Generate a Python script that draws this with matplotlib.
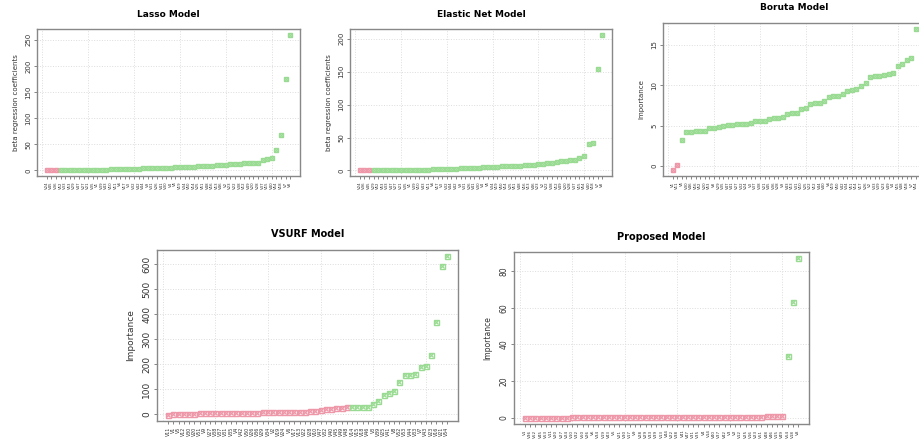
import matplotlib
matplotlib.use("Agg")
import matplotlib.pyplot as plt

# variable names (x tick labels) in plotted order, and their scores
lasso_vars = ("V24 V45 V36 V52 V33 V53 V29 V47 V27 V21 V35 V1 V39 V43 V10 V11 V6 V17 "
              "V3 V32 V42 V44 V9 V31 V26 V41 V30 V4 V5 V19 V34 V50 V14 V25 V51 V48 "
              "V16 V13 V46 V2 V23 V22 V38 V12 V49 V20 V28 V37 V15 V40 V54 V18 V7 V8").split()
lasso_vals = [0, 0, 0, 0.1, 0.2, 0.3, 0.4, 0.5, 0.7, 0.9,
              1.1, 1.3, 1.5, 1.7, 1.9, 2.1, 2.4, 2.7, 3.0, 3.3,
              3.6, 3.9, 4.2, 4.5, 4.8, 5.1, 5.4, 5.7, 6.0, 6.3,
              6.6, 6.9, 7.3, 7.7, 8.2, 8.8, 9.5, 10.3, 10.8, 11.3,
              11.8, 12.3, 13.0, 14.0, 14.5, 14.8, 15.0, 20.0, 22.0, 23.0,
              40.0, 68.0, 176.0, 260.0]
lasso_nsel = 3  # first n drawn in red

enet_vars = ("V24 V36 V45 V29 V52 V53 V33 V47 V27 V21 V35 V1 V39 V10 V43 V11 V6 V17 "
             "V3 V32 V44 V42 V9 V31 V26 V41 V30 V4 V5 V34 V19 V50 V14 V25 V51 V48 "
             "V16 V13 V46 V23 V2 V22 V38 V12 V49 V20 V28 V37 V15 V54 V40 V18 V7 V8").split()
enet_vals = [0, 0, 0, 0.01, 0.02, 0.05, 0.1, 0.1, 0.2, 0.3,
             0.4, 0.5, 0.7, 0.9, 1.1, 1.3, 1.5, 1.8, 2.0, 2.2,
             2.5, 2.8, 3.2, 3.5, 3.8, 4.2, 4.5, 4.8, 5.2, 5.5,
             6.0, 6.2, 6.5, 6.8, 7.0, 7.5, 8.0, 8.5, 9.0, 9.5,
             10.5, 11.0, 12.0, 13.0, 14.0, 15.0, 15.5, 15.8, 19.5, 21.5,
             39.5, 41.0, 154.0, 206.0]
enet_nsel = 3

boruta_vars = ("V1 V11 V5 V30 V46 V16 V52 V20 V53 V8 V29 V35 V47 V41 V27 V32 V24 V3 "
               "V37 V38 V21 V45 V36 V28 V9 V43 V13 V31 V10 V25 V22 V12 V44 V40 V6 V19 "
               "V50 V42 V34 V51 V14 V17 V26 V2 V33 V39 V23 V49 V4 V15 V48 V18 V7 V54").split()
boruta_vals = [-0.5, 0.1, 3.3, 4.2, 4.2, 4.4, 4.4, 4.4, 4.7, 4.75,
               4.8, 4.95, 5.05, 5.15, 5.2, 5.2, 5.25, 5.4, 5.55, 5.55,
               5.55, 5.8, 5.9, 6.0, 6.1, 6.4, 6.55, 6.55, 7.1, 7.15,
               7.7, 7.75, 7.8, 8.0, 8.5, 8.7, 8.7, 8.95, 9.3, 9.4,
               9.6, 9.95, 10.3, 11.05, 11.1, 11.2, 11.3, 11.4, 11.5, 12.4,
               12.6, 13.1, 13.4, 17.0]
boruta_nsel = 2

vsurf_vars = ("V11 V1 V5 V12 V30 V20 V51 V9 V27 V38 V37 V31 V35 V4 V42 V50 V26 V36 "
              "V29 V34 V2 V19 V24 V6 V17 V13 V22 V28 V10 V47 V32 V40 V45 V49 V48 V14 "
              "V15 V18 V46 V3 V39 V25 V41 V8 V52 V53 V44 V33 V7 V43 V23 V16 V21 V54").split()
vsurf_vals = [-3, -1, 0, 0.5, 1, 1.5, 2, 2.3, 2.6, 3,
              3.3, 3.6, 3.9, 4.2, 4.5, 4.8, 5.1, 5.4, 5.7, 6,
              6.4, 6.8, 7.2, 7.6, 8.2, 8.8, 9.5, 10.5, 12, 14,
              19, 20, 23, 25, 26,
              28, 28, 29, 29, 38, 52, 77, 83, 90, 128,
              155, 156, 160, 186, 190, 237, 368, 591, 631]
vsurf_nsel = 35

prop_vars = ("V1 V36 V52 V45 V53 V11 V20 V27 V24 V10 V32 V50 V26 V6 V34 V19 V43 V5 "
             "V21 V30 V17 V9 V28 V29 V33 V39 V13 V44 V22 V38 V41 V47 V31 V35 V4 V14 "
             "V40 V37 V42 V3 V2 V12 V25 V16 V23 V51 V48 V46 V15 V49 V54 V18 V8").split()
prop_vals = [0.05, 0.06, 0.07, 0.08, 0.09, 0.1, 0.1, 0.11, 0.12, 0.13,
             0.14, 0.15, 0.16, 0.17, 0.18, 0.19, 0.2, 0.21, 0.22, 0.23,
             0.24, 0.25, 0.26, 0.27, 0.28, 0.29, 0.3, 0.31, 0.32, 0.33,
             0.34, 0.35, 0.36, 0.37, 0.38, 0.4, 0.42, 0.44, 0.46, 0.48,
             0.5, 0.52, 0.55, 0.58, 0.62, 0.66, 0.7, 0.74, 0.78, 0.8,
             33.5, 63.0, 87.0]
prop_nsel = 50

RED = "#EE97A8"
GREEN = "#9ADB93"


def panel(ax, names, vals, nsel, title, ylabel, yticks, ms, fs, xfs, tfs):
    n = len(vals)
    x = list(range(1, n + 1))
    cols = [RED] * nsel + [GREEN] * (n - nsel)
    for xi, yi, c in zip(x, vals, cols):
        ax.plot(xi, yi, marker="s", ms=ms, mfc="none", mec=c, mew=1.0, ls="none", zorder=3)
        ax.plot(xi, yi, marker="x", ms=ms * 0.8, mec=c, mew=0.9, ls="none", zorder=3)
    pad = 0.04 * (n - 1)
    ax.set_xlim(1 - pad, n + pad)
    lo, hi = min(vals), max(vals)
    ax.set_ylim(lo - 0.04 * (hi - lo), hi + 0.04 * (hi - lo))
    # R grid(): dotted lines at the default pretty ticks
    for gx in range(0, n + 1, 10):
        ax.axvline(gx, color="#dddddd", lw=0.7, ls=":", zorder=1)
    for gy in yticks:
        ax.axhline(gy, color="#dddddd", lw=0.7, ls=":", zorder=1)
    ax.set_xticks(x)
    ax.set_xticklabels(names, rotation=90, fontsize=xfs, color="#333333")
    ax.set_yticks(yticks)
    ax.set_yticklabels([str(t) for t in yticks], rotation=90, va="center", fontsize=fs, color="#333333")
    ax.tick_params(axis="both", length=2.5, width=0.5, color="#555555", pad=1.5)
    for s in ax.spines.values():
        s.set_color("#888888")
        s.set_linewidth(1.0)
    ax.set_title(title, fontsize=tfs, fontweight="bold", pad=9)
    ax.set_ylabel(ylabel, fontsize=fs, color="#333333", labelpad=5)


fig = plt.figure(figsize=(9.19, 4.42), dpi=100)

ax1 = fig.add_axes([0.0403, 0.602, 0.286, 0.332])
panel(ax1, lasso_vars, lasso_vals, lasso_nsel, "Lasso Model", "beta regression coefficients",
      [0, 50, 100, 150, 200, 250], 3.0, 5.0, 2.8, 6.5)

ax2 = fig.add_axes([0.381, 0.602, 0.285, 0.332])
panel(ax2, enet_vars, enet_vals, enet_nsel, "Elastic Net Model", "beta regression coefficients",
      [0, 50, 100, 150, 200], 3.0, 5.0, 2.8, 6.5)

ax3 = fig.add_axes([0.7214, 0.602, 0.286, 0.346])
panel(ax3, boruta_vars, boruta_vals, boruta_nsel, "Boruta Model", "Importance",
      [0, 5, 10, 15], 3.0, 5.0, 2.8, 6.5)

ax4 = fig.add_axes([0.1708, 0.0475, 0.3275, 0.3869])
panel(ax4, vsurf_vars, vsurf_vals, vsurf_nsel, "VSURF Model", "Importance",
      [0, 100, 200, 300, 400, 500, 600], 3.6, 6.5, 3.4, 7.0)

ax5 = fig.add_axes([0.5593, 0.0407, 0.321, 0.389])
panel(ax5, prop_vars, prop_vals, prop_nsel, "Proposed Model", "Importance",
      [0, 20, 40, 60, 80], 3.6, 5.5, 3.0, 7.0)

fig.savefig("out.png", dpi=100)
